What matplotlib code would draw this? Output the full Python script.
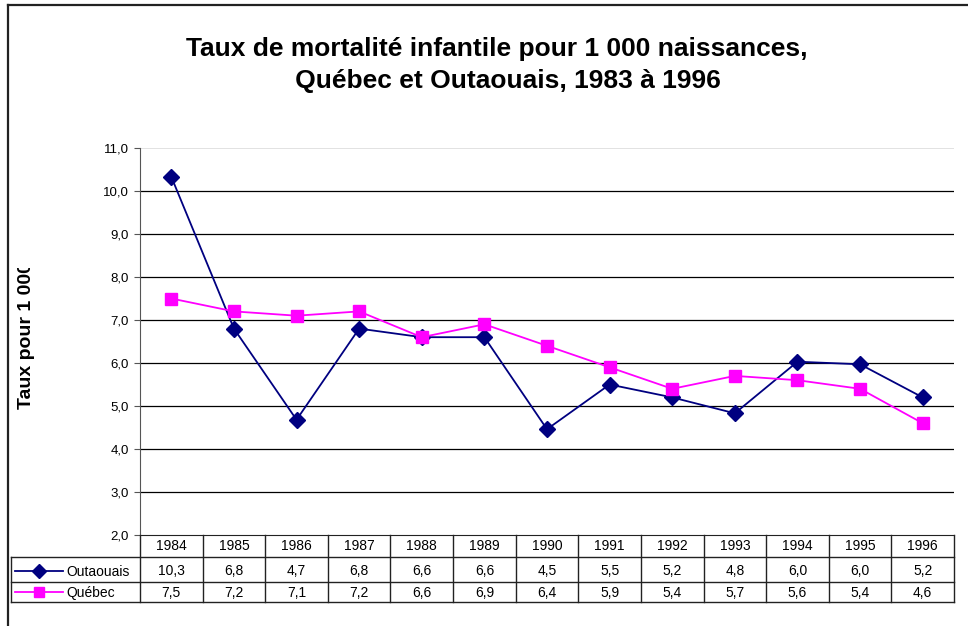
import numpy as np
import matplotlib.pyplot as plt
import matplotlib.transforms as mtransforms

# donnees
annees = ['1984', '1985', '1986', '1987', '1988', '1989', '1990',
          '1991', '1992', '1993', '1994', '1995', '1996']
outaouais = [10.33, 6.8, 4.68, 6.8, 6.6, 6.6, 4.46, 5.5, 5.2, 4.83, 6.03, 5.97, 5.2]
quebec = [7.5, 7.2, 7.1, 7.2, 6.6, 6.9, 6.4, 5.9, 5.4, 5.7, 5.6, 5.4, 4.6]
series = ['Outaouais', 'Québec']
yticks = [2, 3, 4, 5, 6, 7, 8, 9, 10, 11]

titre = 'Taux de mortalité infantile pour 1 000 naissances,\n   Québec et Outaouais, 1983 à 1996'
ylabel = 'Taux pour 1 000'

plt.rcParams['font.family'] = ['Liberation Sans', 'DejaVu Sans']

W, H = 968, 626
fig = plt.figure(figsize=(W / 100, H / 100), dpi=100)


def fy(py):
    # pixel depuis le haut -> fraction de figure
    return 1 - py / H


def fx(px):
    return px / W


# cadre de la figure (gauche et haut seulement visibles)
fig.add_artist(plt.Line2D([fx(8), fx(8)], [fy(5), 0], color='#222222', lw=1.6))
fig.add_artist(plt.Line2D([fx(8), 1], [fy(5), fy(5)], color='#222222', lw=1.6))

x0, x1, ytop, ybot = 140, 954, 148, 535
ax = fig.add_axes([fx(x0), fy(ybot), fx(x1 - x0), (ybot - ytop) / H])
x = np.arange(len(annees))

ax.set_xlim(-0.5, len(annees) - 0.5)
ax.set_ylim(2, 11)
ax.set_yticks(yticks)
ax.set_yticklabels([f'{v:.1f}'.replace('.', ',') for v in yticks], fontsize=9.5)
ax.set_xticks([])
for s in ['top', 'right']:
    ax.spines[s].set_visible(False)
ax.spines['left'].set_color('#555555')
ax.spines['bottom'].set_color('#222222')
ax.tick_params(axis='y', length=4, color='#555555', pad=4)

for v in yticks[1:-1]:
    ax.axhline(v, color='black', lw=0.9, zorder=1)
ax.axhline(11, color='#dddddd', lw=1.2, zorder=1)

ax.plot(x, outaouais, color='#000080', lw=1.3, marker='D', markersize=8.5, zorder=3)
ax.plot(x, quebec, color='#ff00ff', lw=1.3, marker='s', markersize=9, zorder=3)

# tableau de donnees sous le graphique
tr = mtransforms.blended_transform_factory(ax.transData, fig.transFigure)
lc = '#222222'
rows_y = [535, 557, 582, 602]
for k in range(len(annees) + 1):
    ax.plot([k - 0.5, k - 0.5], [fy(535), fy(602)], transform=tr, color=lc, lw=1.0, clip_on=False)
for py in rows_y[1:]:
    fig.add_artist(plt.Line2D([fx(11), fx(x1)], [fy(py), fy(py)], color=lc, lw=1.0))
fig.add_artist(plt.Line2D([fx(11), fx(11)], [fy(557), fy(602)], color=lc, lw=1.0))

fs = 10
for k, a in enumerate(annees):
    ax.text(k, fy(546), a, transform=tr, ha='center', va='center', fontsize=fs)
    ax.text(k, fy(571), f'{outaouais[k]:.1f}'.replace('.', ','), transform=tr,
            ha='center', va='center', fontsize=fs)
    ax.text(k, fy(593), f'{quebec[k]:.1f}'.replace('.', ','), transform=tr,
            ha='center', va='center', fontsize=fs)

# cles de legende dans le tableau
for nom, py, c, m, ms in [(series[0], 571, '#000080', 'D', 7.5), (series[1], 592, '#ff00ff', 's', 7.5)]:
    fig.add_artist(plt.Line2D([fx(15), fx(63)], [fy(py), fy(py)], color=c, lw=1.3))
    fig.add_artist(plt.Line2D([fx(39)], [fy(py)], color=c, marker=m, markersize=ms, lw=0))
    fig.text(fx(66), fy(py + 1), nom, ha='left', va='center', fontsize=fs)

# titre
fig.text(fx(497), fy(65), titre, ha='center', va='center', fontsize=19,
         fontweight='bold', linespacing=1.45)

# titre de l'axe y (coupe en haut comme dans l'original)
t = fig.text(fx(27), fy(409), ylabel, rotation=90, ha='center', va='bottom',
             fontsize=14, fontweight='bold', clip_on=True)
t.set_clip_box(mtransforms.Bbox.from_extents(0, 0, 80, H - 268))

fig.savefig('out.png', dpi=100)
